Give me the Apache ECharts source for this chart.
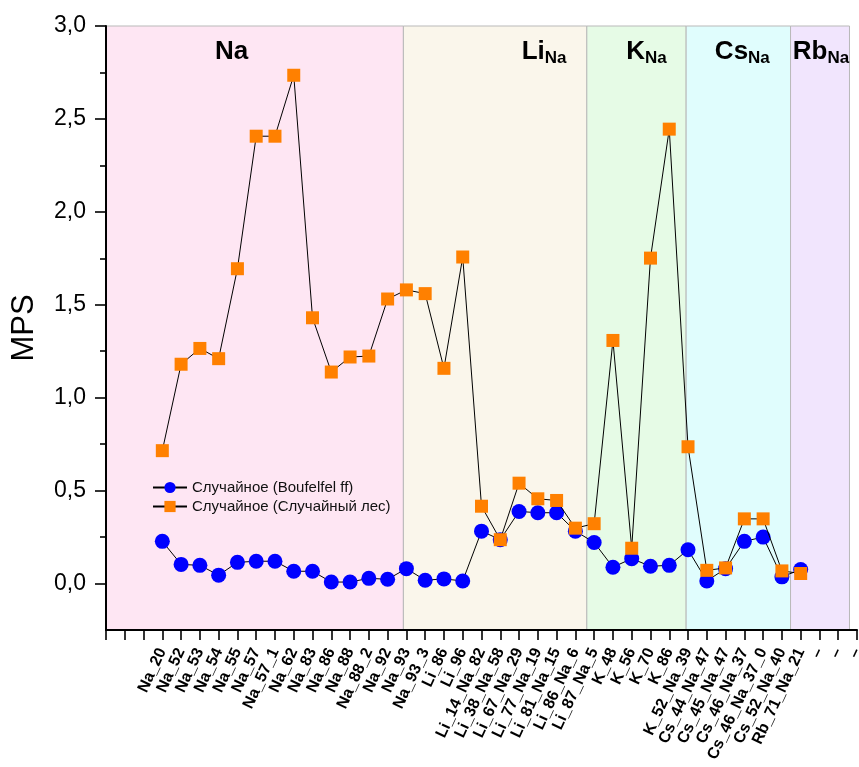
<!DOCTYPE html>
<html>
<head>
<meta charset="utf-8">
<script src="https://cdn.jsdelivr.net/npm/echarts@6/dist/echarts.min.js"></script>
<style>
html,body{margin:0;padding:0;background:#fff;}
#c{width:859px;height:767px;}
</style>
</head>
<body>
<div id="c"></div>
<script>
// ---------- data ----------
const sampleNames = ['Na_20','Na_52','Na_53','Na_54','Na_55','Na_57','Na_57_1','Na_62','Na_83','Na_86','Na_88','Na_88_2','Na_92','Na_93','Na_93_3','Li_86','Li_96','Li_14_Na_82','Li_38_Na_58','Li_67_Na_29','Li_77_Na_19','Li_81_Na_15','Li_86_Na_6','Li_87_Na_5','K_48','K_56','K_70','K_86','K_52_Na_39','Cs_44_Na_47','Cs_45_Na_47','Cs_46_Na_37','Cs_46_Na_37_0','Cs_52_Na_40','Rb_71_Na_21'];
const tickLabels = ['', '', ''].concat(sampleNames, ['–', '–', '–']);
const boufelfel = [0.227,0.103,0.098,0.045,0.114,0.120,0.120,0.066,0.066,0.008,0.008,0.028,0.023,0.080,0.018,0.025,0.014,0.282,0.236,0.388,0.381,0.381,0.282,0.221,0.088,0.134,0.093,0.098,0.182,0.014,0.080,0.227,0.250,0.036,0.075];
const randomForest = [0.715,1.180,1.265,1.210,1.694,2.407,2.407,2.735,1.430,1.138,1.219,1.224,1.531,1.580,1.560,1.158,1.757,0.416,0.236,0.540,0.456,0.447,0.298,0.322,1.308,0.190,1.751,2.445,0.736,0.071,0.084,0.348,0.348,0.068,0.054];
const seriesNames = ['Случайное (Boufelfel ff)', 'Случайное (Случайный лес)'];
const yMajorTicks = [0, 0.5, 1.0, 1.5, 2.0, 2.5, 3.0];
const yMinorTicks = [0.25, 0.75, 1.25, 1.75, 2.25, 2.75];
const regionNames = ['Na', 'Li', 'K', 'Cs', 'Rb'];
const regionSubs = ['', 'Na', 'Na', 'Na', 'Na'];
const regionBounds = [0, 15.84, 25.61, 30.9, 36.46, 39.6];

// ---------- styles ----------
const FONT = 'Liberation Sans, Arial, Helvetica, sans-serif';
const regionColors = ['#fee6f3', '#faf6eb', '#e6fbe6', '#e0fdfd', '#f1e5fd'];
const regionLabelOffsets = [[-23, 11], [49, 11], [10, 11], [4, 11], [1, 11]];

const toPoints = vals => vals.map((v, i) => [tickLabels.indexOf(sampleNames[i]), v]);
const fmtComma = v => v.toFixed(1).replace('.', ',');

const areas = regionNames.map((n, i) => [
  {
    name: n,
    xAxis: regionBounds[i],
    itemStyle: { color: regionColors[i] },
    label: {
      formatter: regionSubs[i] ? '{m|' + n + '}{s|' + regionSubs[i] + '}' : '{m|' + n + '}',
      offset: regionLabelOffsets[i]
    }
  },
  { xAxis: regionBounds[i + 1] }
]);

const chart = echarts.init(document.getElementById('c'), null, { renderer: 'canvas' });
chart.setOption({
  animation: false,
  backgroundColor: '#fff',
  textStyle: { fontFamily: FONT },
  grid: { left: 106, right: 2, top: 26, bottom: 137, containLabel: false, outerBoundsMode: 'none' },
  legend: {
    data: seriesNames,
    orient: 'vertical',
    left: 152,
    top: 480,
    padding: 0,
    itemWidth: 34,
    itemHeight: 14,
    itemGap: 4,
    textStyle: { fontSize: 15, color: '#111', fontFamily: FONT },
    selectedMode: false
  },
  xAxis: {
    type: 'value',
    min: 0,
    max: tickLabels.length - 1,
    interval: 1,
    z: 5,
    axisLine: { show: true, onZero: false, lineStyle: { color: '#000', width: 2 } },
    axisTick: { show: true, length: 10, lineStyle: { color: '#000', width: 1.6 } },
    splitLine: { show: false },
    axisLabel: {
      rotate: 65,
      margin: 19,
      fontSize: 16,
      fontWeight: 'bold',
      color: '#000',
      fontFamily: FONT,
      formatter: v => tickLabels[Math.round(v)] || ''
    }
  },
  yAxis: [
    {
      type: 'value',
      min: -0.25,
      max: 3.0,
      z: 5,
      name: 'MPS',
      nameLocation: 'middle',
      nameGap: 66,
      nameTextStyle: { fontSize: 31, color: '#000', fontFamily: FONT },
      axisLine: { show: true, onZero: false, lineStyle: { color: '#000', width: 2 } },
      axisTick: { show: true, length: 11, customValues: yMajorTicks, lineStyle: { color: '#000', width: 1.6 } },
      axisLabel: {
        customValues: yMajorTicks,
        margin: 20,
        fontSize: 23,
        color: '#000',
        fontFamily: FONT,
        formatter: v => fmtComma(v)
      },
      splitLine: { show: false }
    },
    {
      type: 'value',
      min: -0.25,
      max: 3.0,
      position: 'left',
      z: 5,
      axisLine: { show: false },
      axisTick: { show: true, length: 6, customValues: yMinorTicks, lineStyle: { color: '#000', width: 1.6 } },
      axisLabel: { show: false },
      splitLine: { show: false }
    }
  ],
  series: [
    {
      name: seriesNames[0],
      type: 'line',
      yAxisIndex: 0,
      data: toPoints(boufelfel),
      symbol: 'circle',
      symbolSize: 15,
      itemStyle: { color: '#0000ff' },
      lineStyle: { color: '#000', width: 1 },
      emphasis: { disabled: true },
      z: 3,
      markArea: {
        silent: true,
        z: 1,
        emphasis: { disabled: true },
        itemStyle: { borderColor: '#b9b9b9', borderWidth: 1 },
        label: {
          show: true,
          position: 'insideTop',
          distance: 0,
          color: '#000',
          rich: {
            m: { fontSize: 26, fontWeight: 'bold', color: '#000', fontFamily: FONT, lineHeight: 30 },
            s: { fontSize: 17, fontWeight: 'bold', color: '#000', fontFamily: FONT, lineHeight: 16, verticalAlign: 'bottom' }
          }
        },
        data: areas
      }
    },
    {
      name: seriesNames[1],
      type: 'line',
      yAxisIndex: 0,
      data: toPoints(randomForest),
      symbol: 'rect',
      symbolSize: 13,
      itemStyle: { color: '#ff8000' },
      lineStyle: { color: '#000', width: 1 },
      emphasis: { disabled: true },
      z: 4
    }
  ]
});
</script>
</body>
</html>
